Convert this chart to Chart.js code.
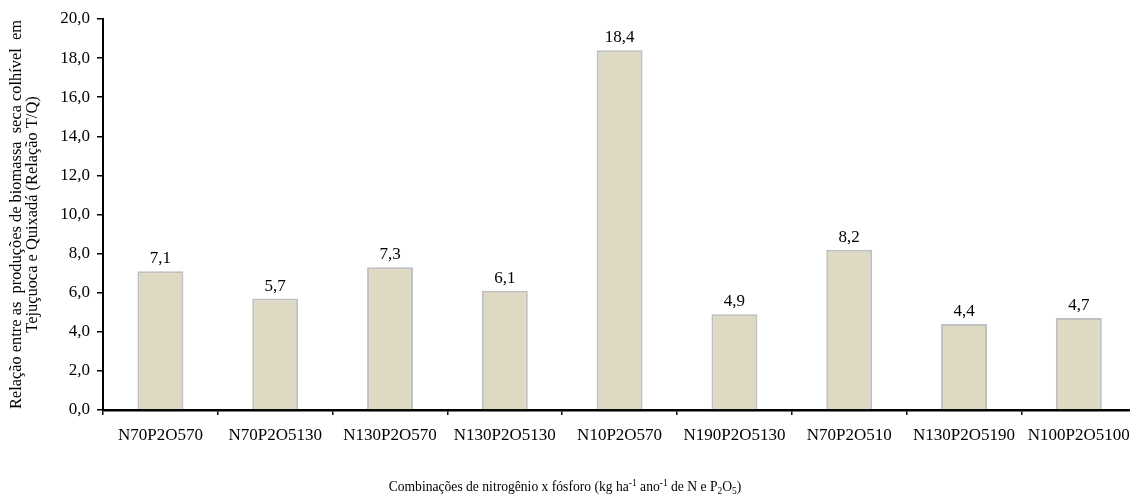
<!DOCTYPE html>
<html>
<head>
<meta charset="utf-8">
<script src="https://cdn.jsdelivr.net/npm/chart.js@4"></script>
<style>
  html, body { margin: 0; padding: 0; background: #fff; overflow: hidden; }
  #wrap { width: 1140px; height: 498px; }
</style>
</head>
<body>
<div id="wrap"><canvas id="c" width="1140" height="498"></canvas></div>
<script>
const categories = ["N70P2O570", "N70P2O5130", "N130P2O570", "N130P2O5130", "N10P2O570", "N190P2O5130", "N70P2O510", "N130P2O5190", "N100P2O5100"];
const ratioValues = [7.1, 5.7, 7.3, 6.1, 18.4, 4.9, 8.2, 4.4, 4.7];
const yTitleLines = ["Relação entre as  produções de biomassa  seca colhível  em", "Tejuçuoca e Quixadá (Relação T/Q)"];
const xTitleParts = [
  { t: "Combinações de nitrogênio x fósforo (kg ha", s: 0 },
  { t: "-1", s: 1 },
  { t: " ano", s: 0 },
  { t: "-1", s: 1 },
  { t: " de N e P", s: 0 },
  { t: "2", s: -1 },
  { t: "O", s: 0 },
  { t: "5", s: -1 },
  { t: ")", s: 0 }
];

const FONT = "'Liberation Serif', 'Times New Roman', serif";

const labelPlugin = {
  id: 'valueLabels',
  afterDatasetsDraw(chart) {
    const ctx = chart.ctx;
    const meta = chart.getDatasetMeta(0);
    ctx.save();
    ctx.font = "17px " + FONT;
    ctx.fillStyle = "#000";
    ctx.textAlign = "center";
    ctx.textBaseline = "alphabetic";
    meta.data.forEach((bar, i) => {
      ctx.fillText(ratioValues[i].toFixed(1).replace('.', ','), bar.x, bar.y - 8);
    });
    ctx.restore();
  }
};

const xTitlePlugin = {
  id: 'xTitle',
  afterDraw(chart) {
    const ctx = chart.ctx;
    ctx.save();
    ctx.fillStyle = "#000";
    ctx.textBaseline = "alphabetic";
    ctx.textAlign = "left";
    const big = "13.6px " + FONT, small = "9.5px " + FONT;
    let total = 0;
    const widths = xTitleParts.map(p => {
      ctx.font = p.s === 0 ? big : small;
      const w = ctx.measureText(p.t).width;
      total += w;
      return w;
    });
    let x = 565 - total / 2;
    const base = 491;
    xTitleParts.forEach((p, i) => {
      ctx.font = p.s === 0 ? big : small;
      const dy = p.s === 1 ? -5 : (p.s === -1 ? 3 : 0);
      ctx.fillText(p.t, x, base + dy);
      x += widths[i];
    });
    ctx.restore();
  }
};

new Chart(document.getElementById('c'), {
  type: 'bar',
  data: {
    labels: categories,
    datasets: [{
      data: ratioValues,
      backgroundColor: '#DDD9C3',
      borderColor: '#BFBFBF',
      borderWidth: 2,
      borderSkipped: 'bottom',
      barPercentage: 0.4,
      categoryPercentage: 1.0
    }]
  },
  options: {
    responsive: false,
    animation: false,
    devicePixelRatio: 1,
    layout: { padding: { top: 19, right: 3, bottom: 46, left: 0 } },
    plugins: { legend: { display: false }, tooltip: { enabled: false } },
    scales: {
      x: {
        offset: true,
        grid: { offset: true, drawOnChartArea: false, drawTicks: true, tickLength: 5, color: '#000', lineWidth: 1.5 },
        border: { display: true, color: '#000', width: 2.5 },
        ticks: { color: '#000', font: { family: FONT, size: 17 }, padding: 10, maxRotation: 0, autoSkip: false },
        afterFit(scale) { scale.height = 42; }
      },
      y: {
        min: 0, max: 20,
        ticks: {
          stepSize: 2, color: '#000', padding: 7,
          font: { family: FONT, size: 17 },
          callback: v => v.toFixed(1).replace('.', ',')
        },
        grid: { drawOnChartArea: false, drawTicks: true, tickLength: 6, color: '#000', lineWidth: 1.5 },
        border: { display: true, color: '#000', width: 2 },
        title: {
          display: true,
          text: yTitleLines,
          color: '#000',
          font: { family: FONT, size: 16.4, lineHeight: 0.98 },
          padding: { top: 9, bottom: 0 }
        },
        afterFit(scale) { scale.width = 103; }
      }
    }
  },
  plugins: [labelPlugin, xTitlePlugin]
});
</script>
</body>
</html>
